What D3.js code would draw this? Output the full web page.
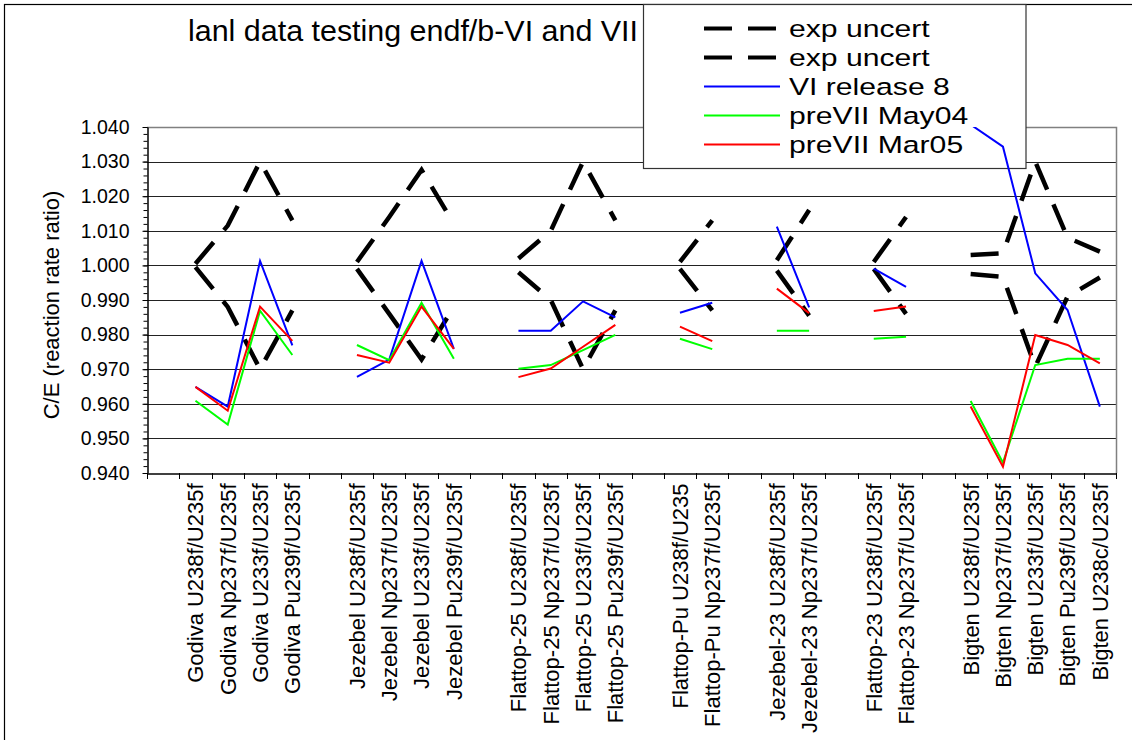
<!DOCTYPE html>
<html>
<head>
<meta charset="utf-8">
<script src="https://cdn.jsdelivr.net/npm/d3@7/dist/d3.min.js"></script>
<style>
  body { margin: 0; background: #fff; }
  text { font-family: "Liberation Sans", Arial, sans-serif; fill: #000; }
</style>
</head>
<body>
<div id="chart"></div>
<script>
// categories, blanks ("") are the gaps between the assemblies
var categories = ["",
  "Godiva U238f/U235f", "Godiva Np237f/U235f", "Godiva U233f/U235f", "Godiva Pu239f/U235f", "",
  "Jezebel U238f/U235f", "Jezebel Np237f/U235f", "Jezebel U233f/U235f", "Jezebel Pu239f/U235f", "",
  "Flattop-25 U238f/U235f", "Flattop-25 Np237f/U235f", "Flattop-25 U233f/U235f", "Flattop-25 Pu239f/U235f", "",
  "Flattop-Pu U238f/U235", "Flattop-Pu Np237f/U235f", "",
  "Jezebel-23 U238f/U235f", "Jezebel-23 Np237f/U235f", "",
  "Flattop-23 U238f/U235f", "Flattop-23 Np237f/U235f", "",
  "Bigten U238f/U235f", "Bigten Np237f/U235f", "Bigten U233f/U235f", "Bigten Pu239f/U235f", "Bigten U238c/U235f"];

var expUncertHigh = [null,
  1.0005, 1.0115, 1.0300, 1.0130, null,
  1.0010, 1.0140, 1.0276, 1.0120, null,
  1.0020, 1.0100, 1.0300, 1.0130, null,
  1.0010, 1.0130, null,
  1.0015, 1.0160, null,
  1.0010, 1.0140, null,
  1.0030, 1.0035, 1.0300, 1.0080, 1.0040];

var expUncertLow = [null,
  0.9995, 0.9880, 0.9700, 0.9870, null,
  0.9990, 0.9860, 0.9728, 0.9880, null,
  0.9980, 0.9900, 0.9700, 0.9870, null,
  0.9990, 0.9870, null,
  0.9985, 0.9855, null,
  0.9990, 0.9860, null,
  0.9975, 0.9967, 0.9707, 0.9910, 0.9965];

var viRelease8 = [null,
  0.9649, 0.9592, 1.0013, 0.9769, null,
  0.9678, 0.9728, 1.0013, 0.9759, null,
  0.9811, 0.9811, 0.9896, 0.9850, null,
  0.9863, 0.9892, null,
  1.0112, 0.9879, null,
  0.9991, 0.9938, null,
  1.0407, 1.0343, 0.9977, 0.9871, 0.9592];

var preVIIMay04 = [null,
  0.9609, 0.9540, 0.9869, 0.9741, null,
  0.9770, 0.9726, 0.9892, 0.9730, null,
  0.9701, 0.9712, 0.9755, 0.9799, null,
  0.9788, 0.9758, null,
  0.9811, 0.9811, null,
  0.9788, 0.9794, null,
  0.9608, 0.9430, 0.9712, 0.9730, 0.9730];

var preVIIMar05 = [null,
  0.9649, 0.9580, 0.9881, 0.9782, null,
  0.9741, 0.9719, 0.9881, 0.9759, null,
  0.9677, 0.9702, 0.9765, 0.9828, null,
  0.9823, 0.9781, null,
  0.9933, 0.9862, null,
  0.9868, 0.9881, null,
  0.9592, 0.9418, 0.9799, 0.9770, 0.9717];

var yTicks = [0.940, 0.950, 0.960, 0.970, 0.980, 0.990, 1.000, 1.010, 1.020, 1.030, 1.040];
var seriesNames = ["exp uncert", "exp uncert", "VI release 8", "preVII May04", "preVII Mar05"];

var
  width = 1132,
  height = 740,
  plotLeft = 147,
  plotRight = 1116,
  plotTop = 127,
  plotBottom = 473;

var colors = ["#000", "#000", "#0000ff", "#00ff00", "#ff0000"];
var widths = [4.5, 4.5, 2, 2, 2];
var dashes = ["28,16", "28,16", null, null, null];

var svg = d3.select("#chart")
  .append("svg")
  .attr("width", width)
  .attr("height", height);

svg.append("rect")
  .attr("width", width)
  .attr("height", height)
  .attr("fill", "#fff");

// outer chart frame (runs off the picture right and bottom)
svg.append("rect")
  .attr("x", 4.5)
  .attr("y", 4.5)
  .attr("width", width + 20)
  .attr("height", height + 20)
  .attr("fill", "none")
  .attr("stroke", "#000")
  .attr("stroke-width", 1.2);

var x = d3.scaleBand()
  .domain(d3.range(categories.length))
  .range([plotLeft, plotRight]);

var y = d3.scaleLinear()
  .domain([0.94, 1.04])
  .range([plotBottom, plotTop]);

// grid lines
svg.selectAll(".grid")
  .data(yTicks.slice(1, -1))
  .enter().append("line")
  .attr("class", "grid")
  .attr("x1", plotLeft)
  .attr("x2", plotRight)
  .attr("y1", function(d) { return Math.round(y(d)) + 0.5; })
  .attr("y2", function(d) { return Math.round(y(d)) + 0.5; })
  .attr("stroke", "#222")
  .attr("stroke-width", 1);

// top and right border of the plot area
svg.append("path")
  .attr("d", "M" + plotLeft + "," + (y(1.04) + 0.5) + "H" + (plotRight + 0.5) + "V" + plotBottom)
  .attr("fill", "none")
  .attr("stroke", "#808080")
  .attr("stroke-width", 1.5);

// minor y ticks
var minor = d3.range(0, 51).map(function(i) { return 0.94 + i * 0.002; });
svg.append("g")
  .attr("transform", "translate(" + (plotLeft + 0.5) + ",0)")
  .call(d3.axisLeft(y).tickValues(minor).tickSize(4).tickFormat(""))
  .call(function(g) { g.select(".domain").remove(); })
  .selectAll("line").attr("stroke", "#000");

// y axis
var yAxis = svg.append("g")
  .attr("transform", "translate(" + (plotLeft + 0.5) + ",0)")
  .call(d3.axisLeft(y).tickValues(yTicks).tickSize(5).tickSizeOuter(0).tickPadding(13).tickFormat(d3.format(".3f")));
yAxis.select(".domain").attr("stroke", "#000").attr("stroke-width", 1.5);
yAxis.selectAll("text")
  .style("font-size", "19.5px")
  .style("font-family", "'Liberation Sans', Arial, sans-serif");

// x axis with rotated labels
var xAxis = svg.append("g")
  .attr("transform", "translate(0," + (plotBottom + 0.5) + ")")
  .call(d3.axisBottom(x).tickSize(0).tickSizeOuter(0).tickFormat(function(i) { return categories[i]; }));
xAxis.select(".domain").attr("stroke", "#000").attr("stroke-width", 1.5);
xAxis.selectAll("text")
  .attr("transform", "rotate(-90)")
  .attr("x", -10)
  .attr("y", 0)
  .attr("dy", "0.36em")
  .attr("text-anchor", "end")
  .style("font-size", "22px")
  .style("font-family", "'Liberation Sans', Arial, sans-serif");

// tick marks on the category boundaries
var edges = d3.range(categories.length).map(function(i) { return x(i); }).concat([x.range()[1]]);
svg.selectAll(".xtick")
  .data(edges)
  .enter().append("line")
  .attr("class", "xtick")
  .attr("x1", function(d) { return Math.round(d) + 0.5; })
  .attr("x2", function(d) { return Math.round(d) + 0.5; })
  .attr("y1", plotBottom)
  .attr("y2", plotBottom + 6)
  .attr("stroke", "#000");

// titles
svg.append("text")
  .attr("x", 188)
  .attr("y", 41)
  .attr("textLength", 450)
  .attr("lengthAdjust", "spacingAndGlyphs")
  .style("font-size", "29px")
  .text("lanl data testing endf/b-VI and VII");

svg.append("text")
  .attr("transform", "translate(51," + ((plotTop + plotBottom) / 2 + 5) + ") rotate(-90)")
  .attr("text-anchor", "middle")
  .attr("dy", "0.36em")
  .style("font-size", "22px")
  .text("C/E (reaction rate ratio)");

// legend
var legend = svg.append("g");
legend.append("rect")
  .attr("x", 643.5)
  .attr("y", 4.5)
  .attr("width", 382.5)
  .attr("height", 164)
  .attr("fill", "#fff")
  .attr("stroke", "#333")
  .attr("stroke-width", 1.2);

var rows = legend.selectAll(".row")
  .data(seriesNames)
  .enter().append("g")
  .attr("transform", function(d, i) { return "translate(0," + (28.5 + i * 29) + ")"; });

rows.append("line")
  .attr("x1", 704)
  .attr("x2", 780)
  .attr("stroke", function(d, i) { return colors[i]; })
  .attr("stroke-width", function(d, i) { return i < 2 ? 4 : 2; })
  .attr("stroke-dasharray", function(d, i) { return dashes[i]; });

// the legend lettering in the picture is wide and short
rows.append("text")
  .attr("transform", "translate(789,8.5) scale(1.23,1)")
  .style("font-size", "24.5px")
  .text(function(d) { return d; });

// series
svg.append("clipPath")
  .attr("id", "plotclip")
  .append("rect")
  .attr("x", plotLeft)
  .attr("y", plotTop)
  .attr("width", plotRight - plotLeft)
  .attr("height", plotBottom - plotTop);

var line = d3.line()
  .defined(function(d) { return d != null; })
  .x(function(d, i) { return x(i) + x.bandwidth() / 2; })
  .y(function(d) { return y(d); });

var series = [expUncertHigh, expUncertLow, viRelease8, preVIIMay04, preVIIMar05];

svg.append("g")
  .attr("clip-path", "url(#plotclip)")
  .selectAll("path")
  .data(series)
  .enter().append("path")
  .attr("d", line)
  .attr("fill", "none")
  .attr("stroke", function(d, i) { return colors[i]; })
  .attr("stroke-width", function(d, i) { return widths[i]; })
  .attr("stroke-dasharray", function(d, i) { return dashes[i]; })
  .attr("stroke-linejoin", "miter");
</script>
</body>
</html>
